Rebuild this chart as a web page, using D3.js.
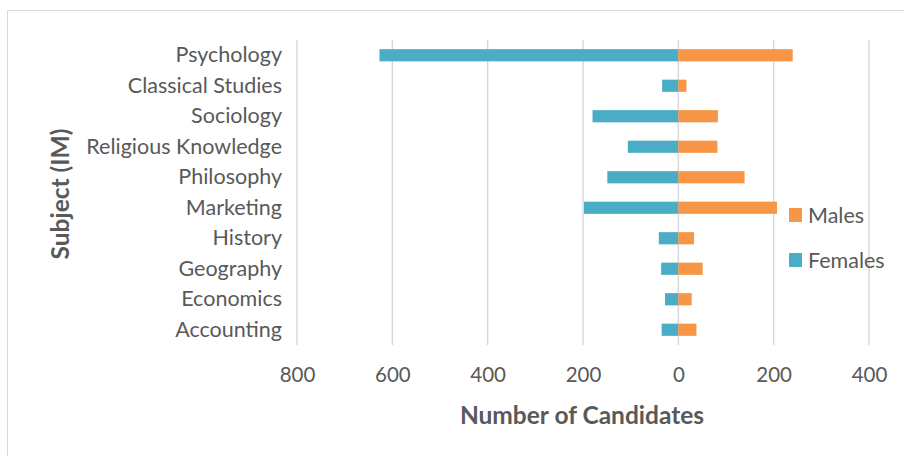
<!DOCTYPE html>
<html>
<head>
<meta charset="utf-8">
<script src="https://cdn.jsdelivr.net/npm/d3@7"></script>
<style>
  body { margin: 0; background: #fff; }
  svg text { font-family: Lato, "Open Sans", sans-serif; fill: #595959; }
</style>
</head>
<body>
<svg id="chart" width="904" height="456"></svg>
<script>
// subjects top to bottom
var subjects = ['Psychology', 'Classical Studies', 'Sociology', 'Religious Knowledge', 'Philosophy',
    'Marketing', 'History', 'Geography', 'Economics', 'Accounting'];
var males = [240, 17, 83, 82, 139, 207, 33, 51, 28, 38];
var females = [627, 34, 180, 106, 149, 198, 41, 36, 28, 35];
var xTicks = [-800, -600, -400, -200, 0, 200, 400];

var svg = d3.select('#chart');
var margin = { left: 297, right: 35, top: 40, bottom: 111 };
var W = 904, H = 456;

// chart frame
svg.append('rect').attr('x', 7.5).attr('y', 10.5).attr('width', 920).attr('height', 460)
    .attr('fill', '#fff').attr('stroke', '#d9d9d9').attr('stroke-width', 1);

var x = d3.scaleLinear().domain([-800, 400]).range([margin.left, W - margin.right]);
var y = d3.scaleBand().domain(subjects).range([margin.top, H - margin.bottom]).paddingInner(0.6).paddingOuter(0.3);

// gridlines
svg.append('g').selectAll('line').data(xTicks).enter().append('line')
    .attr('x1', function(d) { return x(d); }).attr('x2', function(d) { return x(d); })
    .attr('y1', margin.top).attr('y2', H - margin.bottom)
    .attr('stroke', '#d9d9d9').attr('stroke-width', 1.5);

// bars
svg.append('g').selectAll('rect').data(females).enter().append('rect')
    .attr('x', function(d) { return x(-d); })
    .attr('y', function(d, i) { return y(subjects[i]); })
    .attr('width', function(d) { return x(0) - x(-d); })
    .attr('height', y.bandwidth())
    .attr('fill', '#4bacc6');
svg.append('g').selectAll('rect').data(males).enter().append('rect')
    .attr('x', x(0))
    .attr('y', function(d, i) { return y(subjects[i]); })
    .attr('width', function(d) { return x(d) - x(0); })
    .attr('height', y.bandwidth())
    .attr('fill', '#f79646');

// category labels
var yAxis = svg.append('g').attr('transform', 'translate(' + (margin.left - 15) + ',0)')
    .call(d3.axisLeft(y).tickSize(0).tickPadding(0));
yAxis.select('.domain').remove();
yAxis.selectAll('text').attr('font-size', 21.5).style('font-family', 'Lato, sans-serif').attr('fill', '#595959');

// x tick labels
var xAxis = svg.append('g').attr('transform', 'translate(0,' + (H - margin.bottom) + ')')
    .call(d3.axisBottom(x).tickValues(xTicks).tickSize(0).tickPadding(22).tickFormat(function(d) { return Math.abs(d); }));
xAxis.select('.domain').remove();
xAxis.selectAll('text').attr('font-size', 20.5).style('font-family', 'Lato, sans-serif').attr('fill', '#595959');

// axis titles
svg.append('text').attr('x', 582).attr('y', 424).attr('text-anchor', 'middle')
    .attr('font-size', 24.5).attr('font-weight', 'bold').text('Number of Candidates');
svg.append('text').attr('transform', 'translate(69,194) rotate(-90)').attr('text-anchor', 'middle')
    .attr('font-size', 24.5).attr('font-weight', 'bold').text('Subject (IM)');

// legend
var legend = [{ name: 'Males', color: '#f79646' }, { name: 'Females', color: '#4bacc6' }];
var lg = svg.append('g').selectAll('g').data(legend).enter().append('g')
    .attr('transform', function(d, i) { return 'translate(789,' + (208 + i * 45) + ')'; });
lg.append('rect').attr('width', 13).attr('height', 14).attr('fill', function(d) { return d.color; });
lg.append('text').attr('x', 19).attr('y', 7).attr('dy', '0.35em').attr('font-size', 21.5)
    .text(function(d) { return d.name; });
</script>
</body>
</html>
